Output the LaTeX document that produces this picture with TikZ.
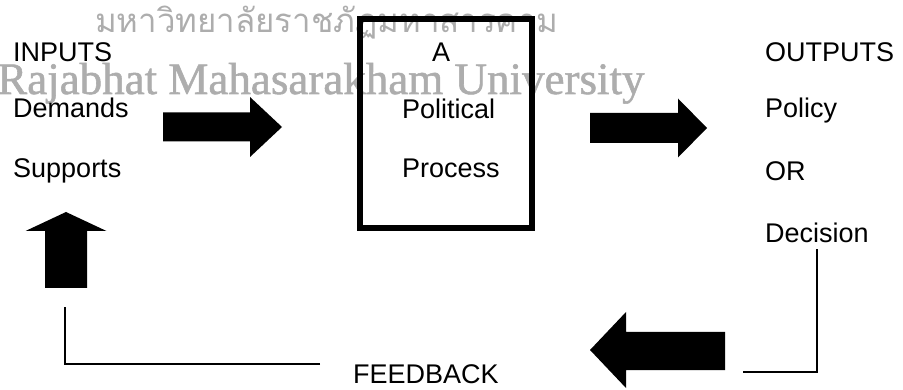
\documentclass[tikz,border=0pt]{standalone}
\usepackage{fontspec}
\setmainfont{Liberation Sans}
\newfontfamily\wmserif[FakeBold=1.2]{Liberation Serif}
\newfontfamily\thaifont[Script=Thai]{Loma}
\begin{document}
\begin{tikzpicture}[
    x=1pt, y=-1pt,
    word/.style={anchor=base west, inner sep=0pt, font=\fontsize{27}{32}\selectfont},
    wmark/.style={anchor=base west, inner sep=0pt, text=black!32},
    fbline/.style={line width=2pt}
]
    \useasboundingbox (0,0) rectangle (903,390);

    % Watermark (behind everything)
    \node[wmark, font=\thaifont\fontsize{33}{36}\selectfont] (wmthai) at (95,33) {มหาวิทยาลัยราชภัฏมหาสารคาม};
    \node[wmark, font=\wmserif\fontsize{45}{48}\selectfont] (wmlatin) at (-3,94) {Rajabhat Mahasarakham University};

    % Inputs column
    \node[word] (inp) at (13,62) {INPUTS};
    \node[word] (dem) at (13,118) {Demands};
    \node[word] (sup) at (13,178) {Supports};

    % Political process box
    \draw[line width=6pt] (360,19) rectangle (532,228);
    \node[word] (pa) at (432,62) {A};
    \node[word] (ppol) at (402,119) {Political};
    \node[word] (pproc) at (402,178) {Process};

    % Outputs column
    \node[word] (outp) at (765,62) {OUTPUTS};
    \node[word] (pol) at (765,118) {Policy};
    \node[word] (or) at (765,181) {OR};
    \node[word] (dec) at (765,243) {Decision};

    % Feedback label
    \node[word] (fb) at (353,383) {FEEDBACK};

    % Block arrows
    \fill (163,112.5) -- (250,112.5) -- (250,97) -- (282,127) -- (250,157) -- (250,141.5) -- (163,141.5) -- cycle;
    \fill (590,113) -- (678,113) -- (678,98.5) -- (707,128) -- (678,157.5) -- (678,143) -- (590,143) -- cycle;
    \fill (725,332) -- (626,332) -- (626,312) -- (590,350) -- (626,388) -- (626,370) -- (725,370) -- cycle;
    \fill (45,288) -- (45,231) -- (25.5,231) -- (66,212) -- (106.5,231) -- (87,231) -- (87,288) -- cycle;

    % Feedback loop lines
    \coordinate (upfoot) at (65,307);
    \coordinate (lfoot) at (743,372);
    \draw[fbline] ([yshift=-6pt]dec.south) |- (lfoot);
    \draw[fbline] ([xshift=-33pt]fb.north west) -| (upfoot);
\end{tikzpicture}
\end{document}
